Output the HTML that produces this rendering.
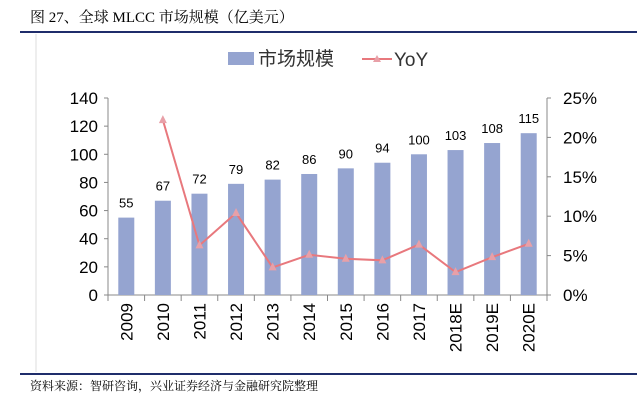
<!DOCTYPE html>
<html><head><meta charset="utf-8"><style>
body{margin:0;background:#fff;width:637px;height:406px;overflow:hidden}
svg text{font-family:"Liberation Sans","Noto Sans CJK SC",sans-serif}
</style></head><body>
<svg width="637" height="406">
<text x="30" y="22" font-size="15" fill="#000" style='font-family:"Liberation Serif","Noto Serif CJK SC",serif'>图 27、全球 MLCC 市场规模（亿美元）</text>
<line x1="20" y1="32" x2="637" y2="32" stroke="#1f2d6b" stroke-width="2"/>
<line x1="36" y1="34" x2="36" y2="372" stroke="#ddd" stroke-width="1"/>
<g>
<rect x="228" y="52" width="26" height="13" fill="#95a4d0"/>
<text x="258" y="65" font-size="19" fill="#333">市场规模</text>
<line x1="362" y1="59" x2="392" y2="59" stroke="#e8787d" stroke-width="2"/>
<polygon points="377,55 381,62 373,62" fill="#e8a0a8"/>
<text x="394" y="66" font-size="19" fill="#333">YoY</text>
</g>
<g id="plot"></g>
<line x1="20" y1="374" x2="637" y2="374" stroke="#1f2d6b" stroke-width="2"/>
<text x="30" y="390" font-size="12" fill="#000" style='font-family:"Liberation Serif","Noto Serif CJK SC",serif'>资料来源：智研咨询，兴业证券经济与金融研究院整理</text>
</svg>
<script>
const categories=["2009","2010","2011","2012","2013","2014","2015","2016","2017","2018E","2019E","2020E"];
const marketSize=[55,67,72,79,82,86,90,94,100,103,108,115];
const yoy=[null,22.2,6.3,10.4,3.5,5.1,4.6,4.4,6.4,2.9,4.8,6.5];
const leftTicks=[0,20,40,60,80,100,120,140];
const rightTicks=[0,5,10,15,20,25];
const NS="http://www.w3.org/2000/svg";
const g=document.getElementById('plot');
const x0=108,x1=547,yb=295,yt=98;
const band=(x1-x0)/categories.length;
const xc=i=>x0+band*(i+0.5);
const yL=v=>yb-(v/140)*(yb-yt);
const yR=v=>yb-(v/25)*(yb-yt);
function mk(t,a){const e=document.createElementNS(NS,t);for(const k in a)e.setAttribute(k,a[k]);g.appendChild(e);return e;}
let e;
e=mk('line',{x1:x0,y1:yt,x2:x0,y2:yb,stroke:'#888'});


e=mk('line',{x1:x1,y1:yt,x2:x1,y2:yb,stroke:'#888'});


e=mk('line',{x1:x0,y1:yb,x2:x1,y2:yb,stroke:'#888'});


leftTicks.forEach(v=>{const y=yL(v);mk('line',{x1:x0-4,y1:y,x2:x0,y2:y,stroke:'#888'});
e=mk('text',{x:x0-10,y:y+6,'font-size':17,'text-anchor':'end',fill:'#000'});e.textContent=v;

});
rightTicks.forEach(v=>{const y=yR(v);mk('line',{x1:x1,y1:y,x2:x1+4,y2:y,stroke:'#888'});
e=mk('text',{x:x1+16,y:y+6,'font-size':17,fill:'#000'});e.textContent=v+'%';

});
for(let i=0;i<=categories.length;i++){const x=x0+band*i;mk('line',{x1:x,y1:yb,x2:x,y2:yb+6,stroke:'#888'});}
categories.forEach((c,i)=>{
const bw=16;
e=mk('rect',{x:xc(i)-bw/2,y:yL(marketSize[i]),width:bw,height:yb-yL(marketSize[i]),fill:'#95a4d0'});


e=mk('text',{x:xc(i),y:yL(marketSize[i])-10,'font-size':13,'text-anchor':'middle',fill:'#000'});e.textContent=marketSize[i];


e=mk('text',{x:0,y:0,'font-size':17,'text-anchor':'end',fill:'#000',transform:`translate(${xc(i)+6},${yb+8}) rotate(-90)`});e.textContent=c;


});
const pts=[];yoy.forEach((v,i)=>{if(v!==null)pts.push([xc(i),yR(v)]);});
e=mk('polyline',{points:pts.map(p=>p.join(',')).join(' '),fill:'none',stroke:'#e8787d','stroke-width':2});


pts.forEach(p=>{e=mk('polygon',{points:`${p[0]},${p[1]-5} ${p[0]+4},${p[1]+3} ${p[0]-4},${p[1]+3}`,fill:'#e8a0a8'});

});
</script>
</body></html>
